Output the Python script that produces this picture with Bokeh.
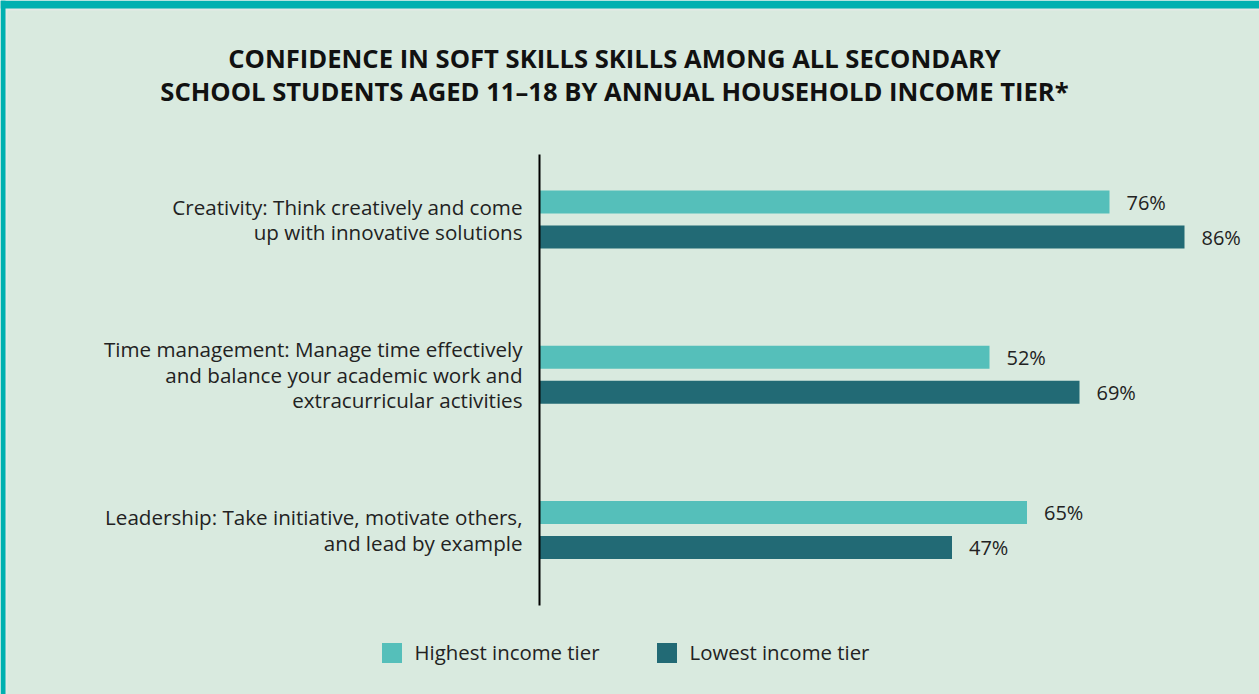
from bokeh.plotting import figure
from bokeh.models import Range1d, Legend, LegendItem, ColumnDataSource
from bokeh.core.properties import value
from bokeh.embed import file_html
from bokeh.resources import INLINE

# ---------------- data ----------------
categories = [
    "Creativity: Think creatively and come\nup with innovative solutions",
    "Time management: Manage time effectively\nand balance your academic work and\nextracurricular activities",
    "Leadership: Take initiative, motivate others,\nand lead by example",
]
series = ["Highest income tier", "Lowest income tier"]
# bar lengths as drawn in the reference (percent)
highest = [76, 60, 65]
lowest = [86, 72, 55]
# value labels as printed in the reference
highest_labels = ["76%", "52%", "65%"]
lowest_labels = ["86%", "69%", "47%"]
title_lines = [
    "CONFIDENCE IN SOFT SKILLS SKILLS AMONG ALL SECONDARY",
    "SCHOOL STUDENTS AGED 11\u201318 BY ANNUAL HOUSEHOLD INCOME TIER*",
]

# ---------------- style ----------------
BG = "#d9eadf"
TEAL = "#00b0b0"
EDGE = "#e4e9e6"
C_HIGH = "#55bfba"
C_LOW = "#226a75"
TXT = "#222222"
FONT = "Open Sans"

W, H = 1259, 694
X0_REF, PX_PCT = 539, 7.5
Y0_REF, PX_GRP = 219, 155.25

def xd(px):
    return (px - X0_REF) / PX_PCT

def yd(py):
    return (py - Y0_REF) / PX_GRP

p = figure(width=W, height=H, output_backend="svg", toolbar_location=None,
           x_range=Range1d(xd(0), xd(W)), y_range=Range1d(yd(H), yd(0)),
           x_axis_location=None, y_axis_location=None, min_border=0)
p.grid.visible = False
p.outline_line_color = None
p.background_fill_color = BG
p.border_fill_color = BG

# frame decoration (teal top / left bands with a light edge)
p.quad(left=[xd(5), xd(5)], right=[xd(W), xd(7)], top=[yd(8), yd(8)], bottom=[yd(10), yd(H)],
       fill_color=EDGE, line_color=None)
p.quad(left=[xd(0), xd(0)], right=[xd(W), xd(5)], top=[yd(0), yd(0)], bottom=[yd(8), yd(H)],
       fill_color=TEAL, line_color=None)

grp = list(range(len(categories)))
off = 17.5 / PX_GRP
bh = 23 / PX_GRP

src_h = ColumnDataSource(dict(y=[g - off for g in grp], v=highest, lab=highest_labels))
src_l = ColumnDataSource(dict(y=[g + off for g in grp], v=lowest, lab=lowest_labels))

r_h = p.hbar(y="y", left=0, right="v", height=bh, source=src_h, fill_color=C_HIGH, line_color=None)
r_l = p.hbar(y="y", left=0, right="v", height=bh, source=src_l, fill_color=C_LOW, line_color=None)

for src in (src_h, src_l):
    p.text(x="v", y="y", text="lab", source=src, x_offset=17, text_baseline="middle",
           text_align="left", text_font=value(FONT), text_font_size="20px", text_color=TXT)

# axis line
p.segment(x0=0, y0=yd(154), x1=0, y1=yd(605), line_color="#000000", line_width=2)

# category labels (one text per line)
lx, ly, loff, ltxt = [], [], [], []
for g, cat in zip(grp, categories):
    lines = cat.split("\n")
    n = len(lines)
    for i, ln in enumerate(lines):
        lx.append(0)
        ly.append(g)
        loff.append((i - (n - 1) / 2) * 25.5)
        ltxt.append(ln)
p.text(x="x", y="y", text="t", y_offset="o", x_offset=-17,
       source=ColumnDataSource(dict(x=lx, y=ly, o=loff, t=ltxt)),
       text_align="right", text_baseline="middle", text_font=value(FONT),
       text_font_size="20.6px", text_color=TXT)

# title
p.text(x=[xd(614)] * 2, y=[yd(58), yd(91)], text=title_lines, text_align="center",
       text_baseline="middle", text_font=value(FONT), text_font_size="25.6px",
       text_font_style="bold", text_color="#111111")

# legends
for r, name, lx0 in ((r_h, series[0], 378.5), (r_l, series[1], 653.5)):
    lg = Legend(items=[LegendItem(label=name, renderers=[r])],
                location=(lx0, 28), orientation="horizontal",
                padding=0, margin=0, border_line_color=None, background_fill_alpha=0,
                glyph_width=25, glyph_height=25, label_standoff=11,
                label_text_font=FONT, label_text_font_size="20.4px",
                label_text_color=TXT, label_height=25)
    p.add_layout(lg)

open("out.html", "w").write(file_html(p, INLINE))
